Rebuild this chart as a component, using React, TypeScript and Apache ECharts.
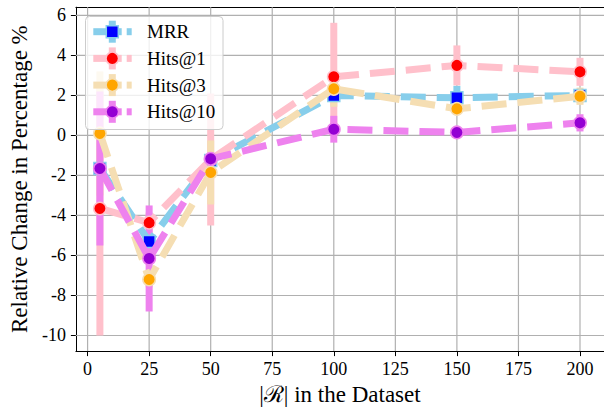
import React, { useEffect, useRef } from "react";
import * as echarts from "echarts";

// ---- data ----
const xValues = [5, 25, 50, 100, 150, 200];
const seriesNames = ["MRR", "Hits@1", "Hits@3", "Hits@10"];
const mrrValues = [-1.65, -5.3, -1.25, 2.0, 1.88, 2.0];
const mrrErrors = [0.2, 0.4, 0.2, 0.3, 0.6, 0.2];
const hits1Values = [-3.65, -4.36, -1.2, 2.93, 3.5, 3.18];
const hits1Errors = [6.35, 0.5, 3.3, 2.7, 1.0, 0.7];
const hits3Values = [0.1, -7.2, -1.85, 2.33, 1.33, 1.96];
const hits3Errors = [3.1, 0.4, 1.6, 0.9, 0.15, 0.43];
const hits10Values = [-1.65, -6.15, -1.17, 0.31, 0.15, 0.63];
const hits10Errors = [3.85, 2.65, 0.3, 0.67, 0.2, 0.43];
const xTicks = [0, 25, 50, 75, 100, 125, 150, 175, 200];
const yTicks = [-10, -8, -6, -4, -2, 0, 2, 4, 6];
const xAxisTitle = "|\u211B| in the Dataset";
const yAxisTitle = "Relative Change in Percentage %";

const allValues = [mrrValues, hits1Values, hits3Values, hits10Values];
const allErrors = [mrrErrors, hits1Errors, hits3Errors, hits10Errors];

// ---- styles ----
const lineColors = ["#87CEEB", "#FFC0CB", "#F5DEB3", "#EE82EE"];
const markerColors = ["#0000FF", "#FF0000", "#FFA500", "#9400D3"];
const markerShapes = ["rect", "circle", "circle", "circle"];
const X_MIN = -4.75;
const X_MAX = 209.75;
const Y_MIN = -10.78;
const Y_MAX = 6.41;
const FAMILY = "Liberation Serif";

export default function App() {
  const ref = useRef<HTMLDivElement>(null);
  useEffect(() => {
    document.body.style.margin = "0";
    if (!ref.current) return;
    const chart = echarts.init(ref.current, undefined, { renderer: "svg" });

    const series: any[] = [];
    // grid lines
    series.push({
      type: "custom",
      silent: true,
      z: 1,
      encode: { x: 0, y: [1, 2] },
      data: xTicks.map((v) => [v, Y_MIN, Y_MAX]),
      renderItem: (_p: any, api: any) => {
        const a = api.coord([api.value(0), api.value(1)]);
        const b = api.coord([api.value(0), api.value(2)]);
        return {
          type: "line",
          shape: { x1: a[0], y1: a[1], x2: b[0], y2: b[1] },
          style: { stroke: "#b0b0b0", lineWidth: 1.2 },
        };
      },
    });
    series.push({
      type: "custom",
      silent: true,
      z: 1,
      encode: { x: [1, 2], y: 0 },
      data: yTicks.map((v) => [v, X_MIN, X_MAX]),
      renderItem: (_p: any, api: any) => {
        const a = api.coord([api.value(1), api.value(0)]);
        const b = api.coord([api.value(2), api.value(0)]);
        return {
          type: "line",
          shape: { x1: a[0], y1: a[1], x2: b[0], y2: b[1] },
          style: { stroke: "#b0b0b0", lineWidth: 1.2 },
        };
      },
    });
    // error bars
    seriesNames.forEach((name, i) => {
      const vals = allValues[i];
      const errs = allErrors[i];
      series.push({
        type: "custom",
        name: name + " err",
        silent: true,
        z: 2 + i,
        encode: { x: 0, y: [1, 2] },
        data: xValues.map((x, j) => [x, vals[j] - errs[j], vals[j] + errs[j]]),
        renderItem: (_p: any, api: any) => {
          const a = api.coord([api.value(0), api.value(1)]);
          const b = api.coord([api.value(0), api.value(2)]);
          return {
            type: "line",
            shape: { x1: a[0], y1: a[1], x2: b[0], y2: b[1] },
            style: { stroke: lineColors[i], lineWidth: 7 },
          };
        },
      });
    });
    // lines + markers
    seriesNames.forEach((name, i) => {
      series.push({
        type: "line",
        name,
        z: 10 + i,
        silent: true,
        symbol: markerShapes[i],
        symbolSize: markerShapes[i] === "rect" ? 12 : 12.5,
        showSymbol: true,
        itemStyle: { color: markerColors[i], borderColor: lineColors[i], borderWidth: 1.5 },
        lineStyle: { color: lineColors[i], width: 7, type: [25, 11] },
        emphasis: { disabled: true },
        data: xValues.map((x, j) => [x, allValues[i][j]]),
      });
    });

    // legend as graphic
    const legend: any[] = [
      {
        type: "rect",
        shape: { x: 85.5, y: 16.5, width: 137.5, height: 113, r: 4 },
        style: { fill: "rgba(255,255,255,0.8)", stroke: "#cccccc", lineWidth: 1 },
        z: 100,
      },
    ];
    seriesNames.forEach((name, i) => {
      const cy = 31.7 + i * 26.7;
      const cx = 112.3;
      legend.push(
        { type: "line", shape: { x1: 93.3, y1: cy, x2: 121.7, y2: cy }, style: { stroke: lineColors[i], lineWidth: 7 }, z: 101 },
        { type: "line", shape: { x1: 126.7, y1: cy, x2: 131.7, y2: cy }, style: { stroke: lineColors[i], lineWidth: 7 }, z: 101 },
        { type: "line", shape: { x1: cx, y1: cy - 11, x2: cx, y2: cy + 11 }, style: { stroke: lineColors[i], lineWidth: 7 }, z: 101 },
        markerShapes[i] === "rect"
          ? { type: "rect", shape: { x: cx - 6, y: cy - 6, width: 12, height: 12 }, style: { fill: markerColors[i], stroke: lineColors[i], lineWidth: 1.5 }, z: 102 }
          : { type: "circle", shape: { cx, cy, r: 6.25 }, style: { fill: markerColors[i], stroke: lineColors[i], lineWidth: 1.5 }, z: 102 },
        { type: "text", x: 147, y: cy, style: { text: name, fontFamily: FAMILY, fontSize: 19, fill: "#000", verticalAlign: "middle" }, z: 102 }
      );
    });

    chart.setOption({
      animation: false,
      grid: { left: 75.6, top: 7.2, width: 536.3, height: 348.1, containLabel: false },
      xAxis: [
        {
          type: "value",
          min: X_MIN,
          max: X_MAX,
          position: "bottom",
          name: xAxisTitle,
          nameLocation: "middle",
          nameGap: 31,
          nameTextStyle: { fontFamily: FAMILY, fontSize: 23, color: "#000" },
          axisLine: { show: true, onZero: false, lineStyle: { color: "#000", width: 1 } },
          axisTick: { show: true, length: 5, inside: false, customValues: xTicks, lineStyle: { color: "#000" } },
          axisLabel: { show: true, customValues: xTicks, fontFamily: FAMILY, fontSize: 18, color: "#000", margin: 9 },
          splitLine: { show: false },
        },
        {
          type: "value",
          min: X_MIN,
          max: X_MAX,
          position: "top",
          axisLine: { show: true, onZero: false, lineStyle: { color: "#000", width: 1 } },
          axisTick: { show: false },
          axisLabel: { show: false },
          splitLine: { show: false },
        },
      ],
      yAxis: {
        type: "value",
        min: Y_MIN,
        max: Y_MAX,
        name: yAxisTitle,
        nameLocation: "middle",
        nameGap: 41,
        nameRotate: 90,
        nameTextStyle: { fontFamily: FAMILY, fontSize: 23, color: "#000" },
        axisLine: { show: true, onZero: false, lineStyle: { color: "#000", width: 1 } },
        axisTick: { show: true, length: 5, inside: false, customValues: yTicks, lineStyle: { color: "#000" } },
        axisLabel: { show: true, customValues: yTicks, fontFamily: FAMILY, fontSize: 18, color: "#000", margin: 10 },
        splitLine: { show: false },
      },
      series,
      graphic: legend,
    });
    return () => chart.dispose();
  }, []);
  return <div ref={ref} style={{ width: 604, height: 411 }} />;
}
